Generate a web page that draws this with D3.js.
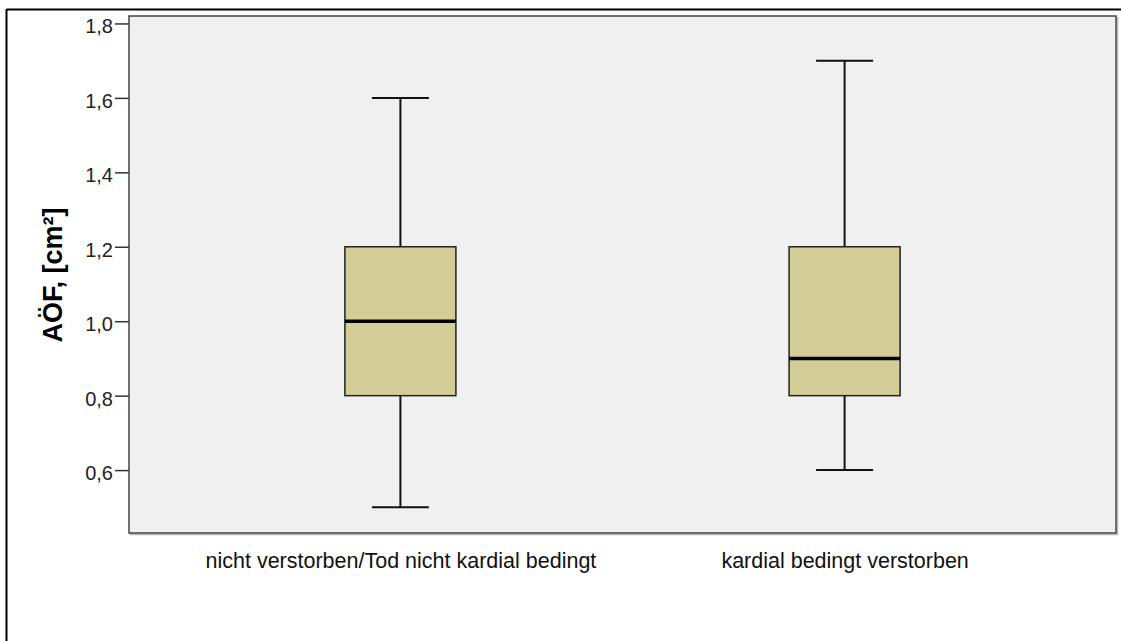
<!DOCTYPE html>
<html>
<head>
<meta charset="utf-8">
<script src="https://cdn.jsdelivr.net/npm/d3@7"></script>
<style>
  html, body { margin: 0; padding: 0; background: #fff; }
  svg { display: block; }
  text { font-family: "Liberation Sans", Arial, sans-serif; fill: #000; }
</style>
</head>
<body>
<svg id="chart" width="1121" height="641"></svg>
<script>
// Group labels and five-number summaries (AÖF in cm²)
const categories = ["nicht verstorben/Tod nicht kardial bedingt", "kardial bedingt verstorben"];
const whiskerLow  = [0.5, 0.6];
const quartile1   = [0.8, 0.8];
const medians     = [1.0, 0.9];
const quartile3   = [1.2, 1.2];
const whiskerHigh = [1.6, 1.7];
const yTicks = [0.6, 0.8, 1.0, 1.2, 1.4, 1.6, 1.8];
const yTitle = "AÖF, [cm²]";

const svg = d3.select("#chart");
const W = 1121, H = 641;
const plot = { left: 129, top: 16, right: 1116, bottom: 533 };
const FONT = '"Liberation Sans", Arial, sans-serif';

// outer frame (top and left edges visible)
svg.append("line").attr("x1", 6.5).attr("x2", W).attr("y1", 9.5).attr("y2", 9.5)
  .attr("stroke", "#000").attr("stroke-width", 2);
svg.append("line").attr("x1", 6.5).attr("x2", 6.5).attr("y1", 9).attr("y2", H)
  .attr("stroke", "#000").attr("stroke-width", 2);

const y = d3.scaleLinear().domain([0.431, 1.82]).range([plot.bottom, plot.top]);
const x = d3.scalePoint().domain(categories).range([plot.left, plot.right]).padding(0.611);

// plot background with soft shadow
svg.append("rect")
  .attr("x", plot.left + 1.5).attr("y", plot.top + 1.5)
  .attr("width", plot.right - plot.left).attr("height", plot.bottom - plot.top)
  .attr("fill", "none").attr("stroke", "#b8b8b8").attr("stroke-width", 1.5);
svg.append("rect")
  .attr("x", plot.left).attr("y", plot.top)
  .attr("width", plot.right - plot.left).attr("height", plot.bottom - plot.top)
  .attr("fill", "#f0f0f0").attr("stroke", "#444").attr("stroke-width", 1.5);

// y axis
const yAxis = d3.axisLeft(y).tickValues(yTicks).tickSize(14).tickPadding(2)
  .tickFormat(d => d3.format(".1f")(d).replace(".", ","));
const gy = svg.append("g").attr("transform", `translate(${plot.left},0)`).call(yAxis);
gy.select(".domain").remove();
gy.selectAll(".tick line").attr("stroke", "#333").attr("stroke-width", 1.5);
gy.selectAll(".tick text")
  .attr("dy", "0.47em")
  .style("font-size", "20px").style("font-family", FONT).style("fill", "#222");

// x axis (category labels, no ticks)
const xAxis = d3.axisBottom(x).tickSize(0).tickPadding(20);
const gx = svg.append("g").attr("transform", `translate(0,${plot.bottom})`).call(xAxis);
gx.select(".domain").remove();
gx.selectAll(".tick text")
  .style("font-size", "21.5px").style("font-family", FONT).style("fill", "#111");

// y axis title
svg.append("text")
  .attr("transform", `translate(62,275) rotate(-90)`)
  .attr("text-anchor", "middle")
  .style("font-size", "27px").style("font-weight", "bold").style("font-family", FONT)
  .text(yTitle);

// boxes
const boxW = 111, capW = 57;
categories.forEach((c, i) => {
  const cx = x(c);
  const g = svg.append("g");
  // whiskers
  g.append("line").attr("x1", cx).attr("x2", cx)
    .attr("y1", y(whiskerHigh[i])).attr("y2", y(quartile3[i]))
    .attr("stroke", "#111").attr("stroke-width", 2);
  g.append("line").attr("x1", cx).attr("x2", cx)
    .attr("y1", y(quartile1[i])).attr("y2", y(whiskerLow[i]))
    .attr("stroke", "#111").attr("stroke-width", 2);
  // caps
  [whiskerHigh[i], whiskerLow[i]].forEach(v => {
    g.append("line").attr("x1", cx - capW / 2).attr("x2", cx + capW / 2)
      .attr("y1", y(v)).attr("y2", y(v))
      .attr("stroke", "#111").attr("stroke-width", 2);
  });
  // box
  g.append("rect")
    .attr("x", cx - boxW / 2).attr("y", y(quartile3[i]))
    .attr("width", boxW).attr("height", y(quartile1[i]) - y(quartile3[i]))
    .attr("fill", "#d3ce97").attr("stroke", "#222").attr("stroke-width", 1.5);
  // median
  g.append("line").attr("x1", cx - boxW / 2).attr("x2", cx + boxW / 2)
    .attr("y1", y(medians[i])).attr("y2", y(medians[i]))
    .attr("stroke", "#000").attr("stroke-width", 3.5);
});
</script>
</body>
</html>
